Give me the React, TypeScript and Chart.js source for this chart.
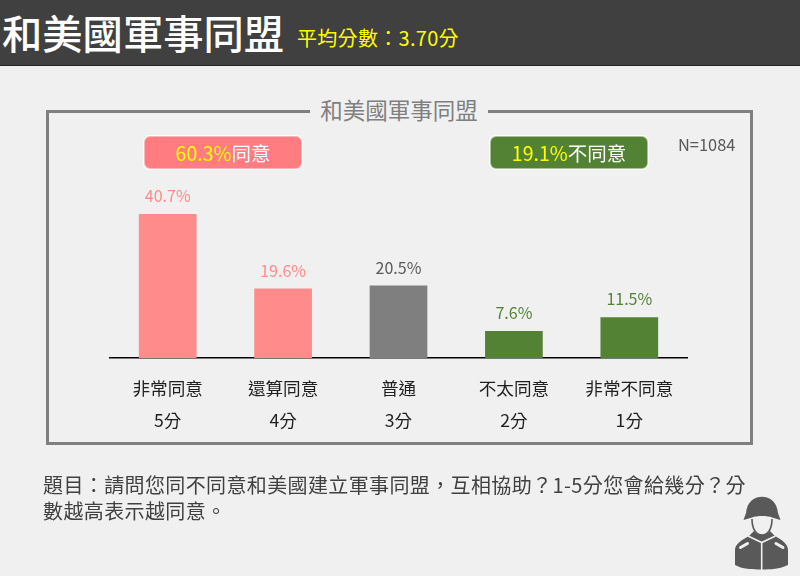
import React, { useEffect, useRef } from "react";
import { Chart, registerables } from "chart.js";

Chart.register(...registerables);

const categories = [["非常同意", "5分"], ["還算同意", "4分"], ["普通", "3分"], ["不太同意", "2分"], ["非常不同意", "1分"]];
const values = [40.7, 19.6, 20.5, 7.6, 11.5];
const barColors = ["#FF8B8B", "#FF8B8B", "#7F7F7F", "#548235", "#548235"];
const labelColors = ["#FF8B8B", "#FF8B8B", "#595959", "#548235", "#548235"];
const FONT = '"Noto Sans CJK TC", "Noto Sans", sans-serif';

const abs = (o: React.CSSProperties): React.CSSProperties => ({ position: "absolute", fontFamily: FONT, whiteSpace: "nowrap", textSpacingTrim: "space-all", ...o } as any);

const valueLabels = {
  id: "valueLabels",
  afterDatasetsDraw(chart: any) {
    const { ctx } = chart;
    const meta = chart.getDatasetMeta(0);
    ctx.save();
    ctx.font = `16px ${FONT}`;
    ctx.textAlign = "center";
    ctx.textBaseline = "bottom";
    meta.data.forEach((bar: any, i: number) => {
      ctx.fillStyle = labelColors[i];
      ctx.fillText(values[i].toFixed(1) + "%", bar.x, bar.y - 10);
    });
    ctx.restore();
  },
};

function Badge({ left, width, bg, ring, pct, text }: any) {
  return (
    <div style={abs({ left, top: 136, width, height: 33, boxSizing: "border-box", background: bg, border: `1px solid ${ring}`, outline: "1px solid #fff", outlineOffset: 0, borderRadius: 6, textAlign: "center", fontSize: 19.5, lineHeight: "31px", color: "#fff" })}>
      <span style={{ color: "#FFFF00" }}>{pct}</span>{text}
    </div>
  );
}

export default function App() {
  const ref = useRef<HTMLCanvasElement>(null);
  useEffect(() => {
    document.body.style.margin = "0";
    document.body.style.background = "#F0F0F0";
    const chart = new Chart(ref.current!, {
      type: "bar",
      data: {
        labels: categories,
        datasets: [{ data: values, backgroundColor: barColors, categoryPercentage: 1, barPercentage: 0.5 }],
      },
      plugins: [valueLabels],
      options: {
        animation: false,
        responsive: false,
        layout: { padding: { left: 110, right: 113, top: 181, bottom: 138 } },
        plugins: { legend: { display: false }, tooltip: { enabled: false }, title: { display: false } },
        scales: {
          y: { display: false, min: 0, max: 50 },
          x: {
            afterFit: (s: any) => { s.height = 80; },
            grid: { display: false, drawTicks: false },
            border: { display: true, color: "#000", width: 1.5 },
            ticks: { color: "#1F1F1F", font: { family: FONT, size: 17.6, lineHeight: "32px" }, padding: 14, maxRotation: 0, autoSkip: false },
          },
        },
      },
    } as any);
    return () => chart.destroy();
  }, []);

  return (
    <div lang="zh-TW" style={{ position: "relative", width: 800, height: 576, overflow: "hidden", background: "#F0F0F0" }}>
      <div style={abs({ left: 0, top: 0, width: 800, height: 65, background: "#404040", borderBottom: "1px solid #222" })} />
      <div style={abs({ left: 2, top: 3, fontSize: 40.3, lineHeight: "58px", color: "#fff", fontWeight: 500 })}>和美國軍事同盟</div>
      <div style={abs({ left: 297, top: 23, fontSize: 20, lineHeight: "30px", letterSpacing: 0.3, color: "#FFFF00" })}>平均分數：3.70分</div>

      <div style={abs({ left: 46, top: 110, width: 707, height: 335, boxSizing: "border-box", border: "3px solid #7F7F7F" })} />
      <div style={abs({ left: 310, top: 93, width: 178, height: 32, background: "#F0F0F0", textAlign: "center", fontSize: 22.5, lineHeight: "32px", color: "#7F7F7F" })}>和美國軍事同盟</div>

      <canvas ref={ref} width={800} height={576} style={{ position: "absolute", left: 0, top: 0 }} />

      <Badge left={144} width={158} bg="#FF7C80" ring="#FFB5B7" pct="60.3%" text="同意" />
      <Badge left={490} width={158} bg="#548235" ring="#A9C096" pct="19.1%" text="不同意" />
      <div style={abs({ left: 678, top: 133, fontSize: 16.4, lineHeight: "22px", color: "#595959" })}>N=1084</div>

      <div style={abs({ left: 43, top: 472, fontSize: 20, lineHeight: "26px", letterSpacing: 0.38, color: "#404040" })}>
        題目：請問您同不同意和美國建立軍事同盟，互相協助？1-5分您會給幾分？分<br />數越高表示越同意。
      </div>

      <svg style={{ position: "absolute", left: 730, top: 490 }} width={64} height={84} viewBox="0 0 64 84">
        <path fill="#595959" d="M13.5 30 L16 23 C17 12 24 6.7 32 6.7 C40 6.7 47 12 48 23 L50.5 30 L42 27.5 C38 25.5 26 25.5 22 27.5 Z" />
        <path fill="none" stroke="#595959" strokeWidth={1.6} d="M22 29 C22 39 26 45 32 45 C38 45 42 39 42 29" />
        <path fill="#595959" d="M5 75 L5 60 C5 54 12 50 19 46 L24 41 C27 46 37 46 40 41 L45 46 C52 50 58 54 58 60 L58 75 C50 79 40 79.5 31.7 79.5 C22 79.5 12 79 5 75 Z" />
        <path fill="none" stroke="#F0F0F0" strokeWidth={1.6} d="M18 46 L31.7 52.5 L45.5 46 M31.7 52.5 L31.7 80" />
        <path fill="none" stroke="#F0F0F0" strokeWidth={3} strokeLinecap="round" d="M10.5 57.5 L17.5 53.5 M46 53.5 L53 57.5" />
      </svg>
    </div>
  );
}
